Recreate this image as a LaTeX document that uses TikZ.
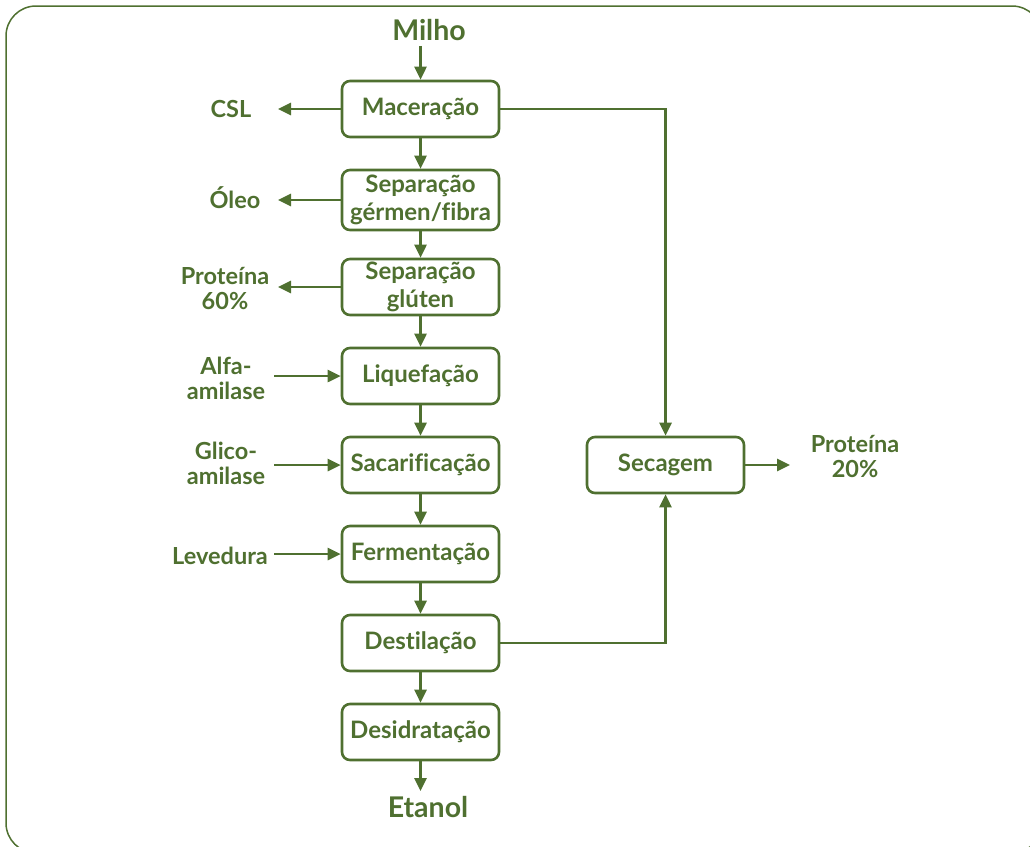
\documentclass[tikz,border=0pt]{standalone}
\usepackage{fontspec}
\setmainfont{Lato}[BoldFont={Lato Bold}, Ligatures=NoCommon]
\usetikzlibrary{arrows.meta}
\definecolor{fg}{HTML}{4F7030}
\begin{document}
\begin{tikzpicture}[x=1pt,y=-1pt,
  proc/.style={draw=fg, line width=2.6pt, rounded corners=8pt, minimum width=157pt, minimum height=56pt, inner sep=0pt, align=center, text=fg, font=\bfseries\fontsize{24}{28}\selectfont},
  lbl/.style={text=fg, align=center, inner sep=0pt, font=\bfseries\fontsize{23.5}{25}\selectfont},
  big/.style={text=fg, inner sep=5pt, font=\bfseries\fontsize{28.5}{32}\selectfont},
  arr/.style={draw=fg, line width=2.6pt, -{Triangle[length=13pt,width=12pt]}}]
\clip (0,0) rectangle (1030,846);
\draw[fg, line width=1.5pt, rounded corners=30pt] (6,6) rectangle (1042,853);
% process boxes
\node[proc] (b1) at (420.5,109) {Maceração};
\node[proc, minimum height=60pt] (b2) at (420.5,200) {Separação\\gérmen/fibra};
\node[proc] (b3) at (420.5,287) {Separação\\glúten};
\node[proc] (b4) at (420.5,376) {Liquefação};
\node[proc] (b5) at (420.5,465) {Sacarificação};
\node[proc] (b6) at (420.5,554) {Fermentação};
\node[proc] (b7) at (420.5,643) {Destilação};
\node[proc] (b8) at (420.5,732) {Desidratação};
\node[proc] (sec) at (665.5,465) {Secagem};
% in/out
\node[big] (milho) at (429,30) {Milho};
\node[big] (etanol) at (428,807) {Etanol};
\node[lbl] (csl) at (231,109) {CSL};
\node[lbl] (oleo) at (235,198) {Óleo};
\node[lbl] (p60) at (225,289) {Proteína\\60\%};
\node[lbl] (alfa) at (226,378) {Alfa-\\amilase};
\node[lbl] (glico) at (226,463) {Glico-\\amilase};
\node[lbl] (lev) at (220,556) {Levedura};
\node[lbl] (p20) at (855,457) {Proteína\\20\%};
\coordinate (Lout) at (278,0);
\coordinate (Lin) at (274,0);
\coordinate (Rout) at (790,0);
% connectors
\draw[arr] (b1.north |- milho.south) -- (b1.north);
\draw[arr] (b1) -- (b2);
\draw[arr] (b2) -- (b3);
\draw[arr] (b3) -- (b4);
\draw[arr] (b4) -- (b5);
\draw[arr] (b5) -- (b6);
\draw[arr] (b6) -- (b7);
\draw[arr] (b7) -- (b8);
\draw[arr] (b8.south) -- (b8.south |- etanol.north);
\draw[arr] (b1.west) -- (b1.west -| Lout);
\draw[arr] (b2.west) -- (b2.west -| Lout);
\draw[arr] (b3.west) -- (b3.west -| Lout);
\draw[arr] (b4.west -| Lin) -- (b4.west);
\draw[arr] (b5.west -| Lin) -- (b5.west);
\draw[arr] (b6.west -| Lin) -- (b6.west);
\draw[arr] (b1.east) -| (sec.north);
\draw[arr] (b7.east) -| (sec.south);
\draw[arr] (sec.east) -- (sec.east -| Rout);
\end{tikzpicture}
\end{document}
